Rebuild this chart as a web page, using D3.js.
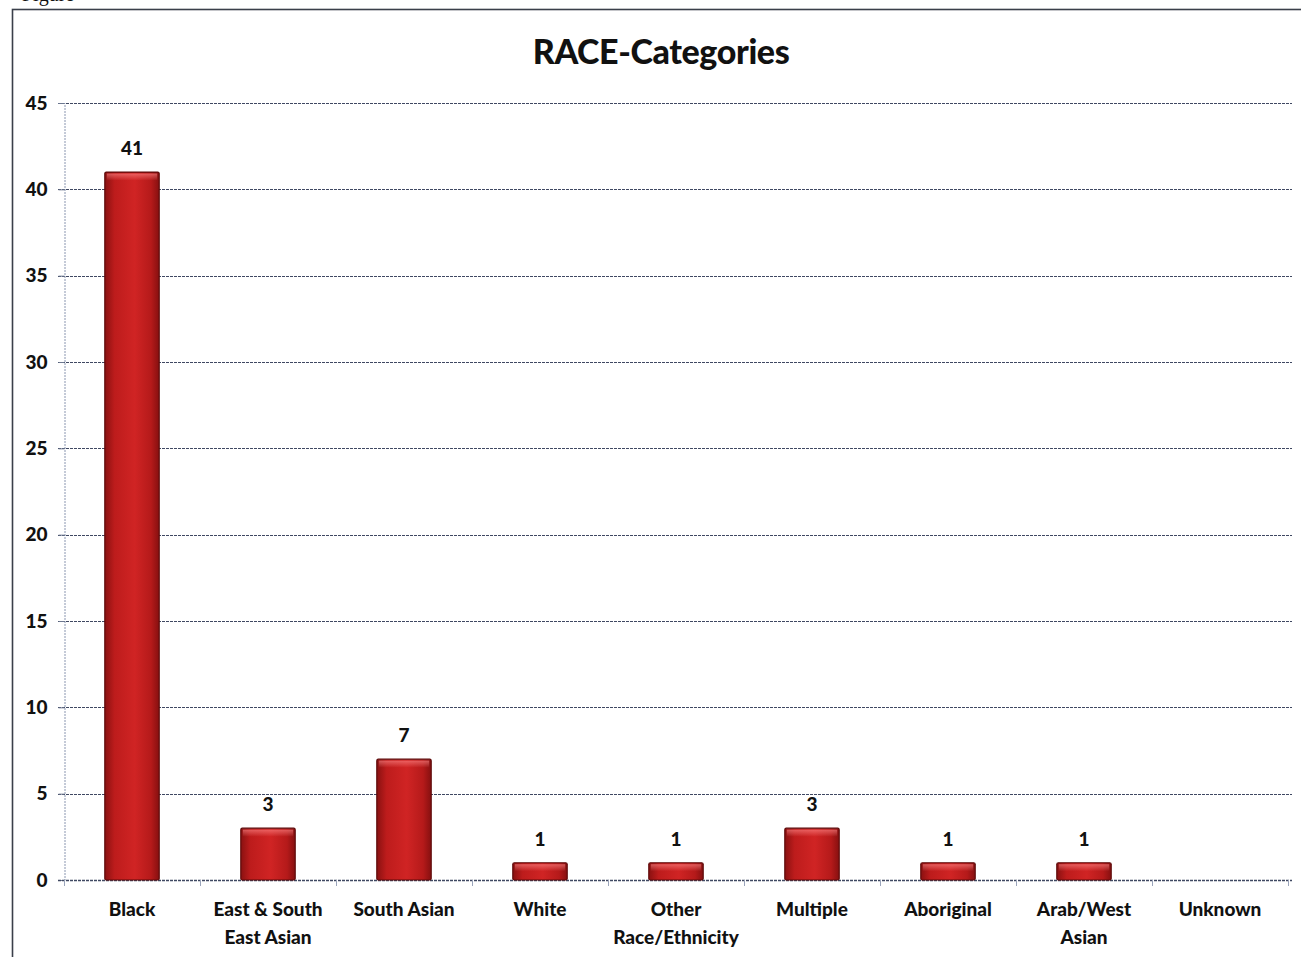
<!DOCTYPE html>
<html>
<head>
<meta charset="utf-8">
<script src="https://cdn.jsdelivr.net/npm/d3@7"></script>
<style>
  html, body { margin: 0; padding: 0; background: #fff; }
  svg { display: block; }
  text { font-family: Lato, "Open Sans", sans-serif; font-weight: 900; fill: #111; }
</style>
</head>
<body>
<svg id="chart" width="1301" height="957"></svg>
<script>
// Chart data
const categories = [
  ["Black"],
  ["East & South", "East Asian"],
  ["South Asian"],
  ["White"],
  ["Other", "Race/Ethnicity"],
  ["Multiple"],
  ["Aboriginal"],
  ["Arab/West", "Asian"],
  ["Unknown"]
];
const counts = [41, 3, 7, 1, 1, 3, 1, 1, 0];
const yTicks = [0, 5, 10, 15, 20, 25, 30, 35, 40, 45];
const title = "RACE-Categories";

const svg = d3.select("#chart");
const W = 1301, H = 957;
const margin = { left: 64, right: 13, top: 103, bottom: 77 };
const plotW = 1288 - margin.left;

const x = d3.scaleBand()
  .domain(d3.range(categories.length))
  .range([margin.left, margin.left + plotW])
  .paddingInner(0.6)
  .paddingOuter(0.3);

const y = d3.scaleLinear()
  .domain([0, 45])
  .range([880, margin.top]);

// Cropped caption above the frame
svg.append("text")
  .attr("x", 22).attr("y", 1)
  .style("font-family", "'Liberation Serif', serif")
  .style("font-weight", 400)
  .style("font-size", "20px")
  .text("Figure");

// Outer chart frame
svg.append("rect")
  .attr("x", 12.5).attr("y", 9.5)
  .attr("width", W).attr("height", H)
  .attr("fill", "none")
  .attr("stroke", "#3a3f4a")
  .attr("stroke-width", 1.6);

// Title
svg.append("text")
  .attr("x", 661).attr("y", 64)
  .attr("text-anchor", "middle")
  .style("font-size", "34px")
  .style("letter-spacing", "-0.4px")
  .text(title);

// Gradient for bars
const defs = svg.append("defs");
const grad = defs.append("linearGradient")
  .attr("id", "barGrad")
  .attr("x1", "0%").attr("x2", "100%").attr("y1", "0%").attr("y2", "0%");
grad.append("stop").attr("offset", "0%").attr("stop-color", "#8a1111");
grad.append("stop").attr("offset", "18%").attr("stop-color", "#bd1c1c");
grad.append("stop").attr("offset", "55%").attr("stop-color", "#d02424");
grad.append("stop").attr("offset", "85%").attr("stop-color", "#b51a1a");
grad.append("stop").attr("offset", "100%").attr("stop-color", "#861010");

const topGrad = defs.append("linearGradient")
  .attr("id", "topGrad")
  .attr("x1", "0%").attr("x2", "0%").attr("y1", "0%").attr("y2", "100%");
topGrad.append("stop").attr("offset", "0%").attr("stop-color", "#ff8a8a").attr("stop-opacity", 0.6);
topGrad.append("stop").attr("offset", "100%").attr("stop-color", "#ff8a8a").attr("stop-opacity", 0);

// Horizontal gridlines
const gridG = svg.append("g");
gridG.selectAll("line")
  .data(yTicks.filter(d => d > 0))
  .join("line")
  .attr("x1", margin.left - 6).attr("x2", 1292)
  .attr("y1", d => Math.round(y(d)) + 0.5).attr("y2", d => Math.round(y(d)) + 0.5)
  .attr("stroke", "#3f4862")
  .attr("stroke-width", 1.2)
  .attr("stroke-dasharray", "3,1");

// Y axis
const yAxis = svg.append("g")
  .attr("transform", `translate(${margin.left + 0.5},0)`)
  .call(d3.axisLeft(y).tickValues(yTicks).tickSize(6).tickPadding(11));
yAxis.select(".domain").attr("stroke", "#8a96b0").attr("stroke-dasharray", "2,1");
yAxis.selectAll(".tick line").attr("stroke", "#6d7890");
yAxis.selectAll(".tick text")
  .style("font-size", "19px")
  .style("font-family", "Lato, sans-serif")
  .style("font-weight", 900)
  .attr("fill", "#111");

// X axis baseline and category boundary ticks
const boundaries = d3.range(categories.length + 1).map(i => margin.left + i * plotW / categories.length);
svg.append("line")
  .attr("x1", margin.left - 6).attr("x2", 1292)
  .attr("y1", y(0) + 0.5).attr("y2", y(0) + 0.5)
  .attr("stroke", "#3f4862").attr("stroke-width", 1.3)
  .attr("stroke-dasharray", "3,1");
svg.append("g").selectAll("line")
  .data(boundaries)
  .join("line")
  .attr("x1", d => d + 0.5).attr("x2", d => d + 0.5)
  .attr("y1", y(0)).attr("y2", y(0) + 6)
  .attr("stroke", "#9aa4ba");

// Bars
const bars = svg.append("g");
const barData = counts.map((v, i) => ({ i, v })).filter(d => d.v > 0);
bars.selectAll("rect.bar")
  .data(barData)
  .join("rect")
  .attr("class", "bar")
  .attr("x", d => x(d.i))
  .attr("y", d => y(d.v))
  .attr("width", x.bandwidth())
  .attr("height", d => y(0) - y(d.v))
  .attr("rx", 1.5)
  .attr("fill", "url(#barGrad)")
  .attr("stroke", "#5e0a0a")
  .attr("stroke-width", 1.2);
bars.selectAll("rect.hl")
  .data(barData)
  .join("rect")
  .attr("class", "hl")
  .attr("x", d => x(d.i) + 2)
  .attr("y", d => y(d.v) + 1.5)
  .attr("width", x.bandwidth() - 4)
  .attr("height", 7)
  .attr("fill", "url(#topGrad)");

// Value labels
svg.append("g").selectAll("text")
  .data(barData)
  .join("text")
  .attr("x", d => x(d.i) + x.bandwidth() / 2)
  .attr("y", d => y(d.v) - 17)
  .attr("text-anchor", "middle")
  .style("font-size", "19px")
  .text(d => d.v);

// Category labels
const catG = svg.append("g").selectAll("text")
  .data(categories)
  .join("text")
  .attr("x", (d, i) => x(i) + x.bandwidth() / 2)
  .attr("y", 916)
  .attr("text-anchor", "middle")
  .style("font-size", "19px");
catG.selectAll("tspan")
  .data(d => d)
  .join("tspan")
  .attr("x", function () { return d3.select(this.parentNode).attr("x"); })
  .attr("dy", (d, i) => i === 0 ? 0 : 28)
  .text(d => d);
</script>
</body>
</html>
